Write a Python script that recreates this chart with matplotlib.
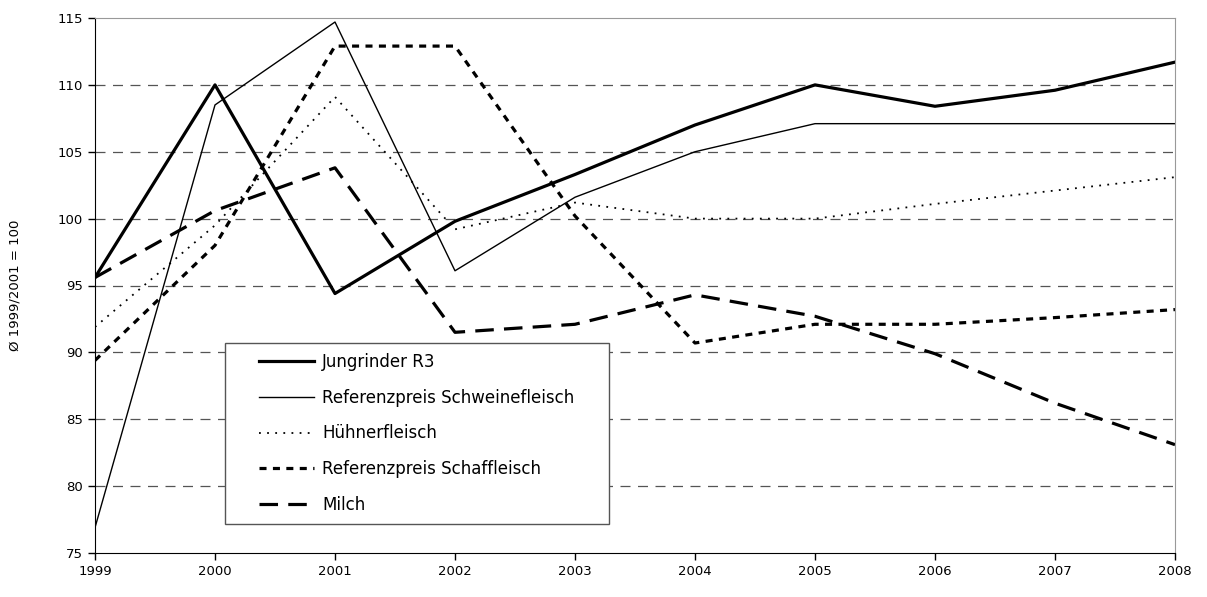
import matplotlib
matplotlib.use("Agg")
import matplotlib.pyplot as plt
from matplotlib.patches import Rectangle

years = [1999, 2000, 2001, 2002, 2003, 2004, 2005, 2006, 2007, 2008]
jungrinder = [95.6, 110.0, 94.4, 99.8, 103.3, 107.0, 110.0, 108.4, 109.6, 111.7]
schwein = [76.9, 108.5, 114.7, 96.1, 101.6, 105.0, 107.1, 107.1, 107.1, 107.1]
huehner = [91.9, 99.5, 109.1, 99.2, 101.2, 100.0, 100.0, 101.1, 102.1, 103.1]
schaf = [89.4, 98.0, 112.9, 112.9, 100.2, 90.7, 92.1, 92.1, 92.6, 93.2]
milch = [95.6, 100.6, 103.8, 91.5, 92.1, 94.3, 92.7, 89.9, 86.2, 83.1]
labels = ["Jungrinder R3", "Referenzpreis Schweinefleisch", "Hühnerfleisch",
          "Referenzpreis Schaffleisch", "Milch"]
yticks = [75, 80, 85, 90, 95, 100, 105, 110, 115]

plt.rcParams['font.family'] = ['DejaVu Sans']
W, H = 1207, 597
fig = plt.figure(figsize=(W / 100, H / 100), dpi=100)
ax = fig.add_axes([95 / W, 44 / H, 1080 / W, 535 / H])

ax.plot(years, jungrinder, color='black', lw=2.3, label=labels[0])
ax.plot(years, schwein, color='black', lw=1.0, label=labels[1])
ax.plot(years, huehner, color='black', lw=1.3, linestyle=(0, (1, 3.5)), label=labels[2])
ax.plot(years, schaf, color='black', lw=2.3, linestyle=(0, (2.2, 2.0)), label=labels[3])
ax.plot(years, milch, color='black', lw=2.3, linestyle=(0, (5.8, 3.2)), label=labels[4])

ax.set_xlim(1999, 2008)
ax.set_ylim(75, 115)
ax.set_xticks(years)
ax.set_yticks(yticks)
ax.tick_params(labelsize=9.5, length=5, width=1, direction='out', color='black')
for y in yticks[1:-1]:
    ax.axhline(y, color='#555555', lw=0.9, linestyle=(0, (8, 6)), zorder=0)
ax.spines['top'].set_color('#999999')
ax.spines['right'].set_color('#999999')
ax.spines['left'].set_color('black')
ax.spines['bottom'].set_color('black')
ax.set_ylabel("Ø 1999/2001 = 100", fontsize=9.5, labelpad=26)

# legend frame drawn separately
frame = Rectangle((225 / W, 1 - 524 / H), (609 - 225) / W, (524 - 343) / H,
                  transform=fig.transFigure, facecolor='white',
                  edgecolor='#555555', lw=1.0, zorder=5, clip_on=False)
ax.add_artist(frame)
leg = ax.legend(loc='upper left', bbox_to_anchor=(259 / W, 1 - 353 / H),
                bbox_transform=fig.transFigure, fontsize=12, frameon=False,
                handlelength=3.3, handletextpad=0.5,
                labelspacing=1.06, borderpad=0.0, borderaxespad=0)
leg.set_zorder(6)

fig.savefig("out.png", dpi=100)
